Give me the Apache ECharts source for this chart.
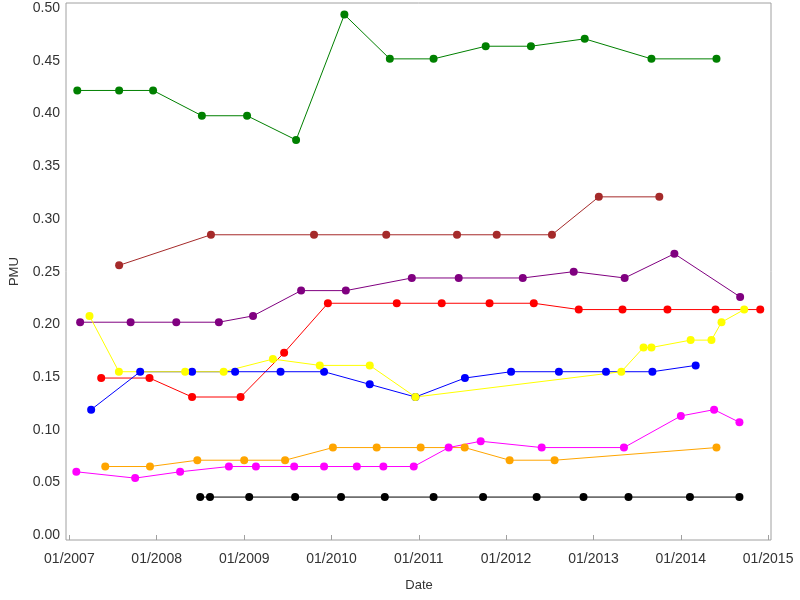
<!DOCTYPE html>
<html>
<head>
<meta charset="utf-8">
<script src="https://cdn.jsdelivr.net/npm/echarts@6/dist/echarts.min.js"></script>
<style>html,body{margin:0;padding:0;background:#fff;}#c{width:800px;height:600px;}</style>
</head>
<body>
<div id="c"></div>
<script>
// ---- data ----
const tickYears = [2007, 2008, 2009, 2010, 2011, 2012, 2013, 2014, 2015];
const yTicks = [0, 0.05, 0.1, 0.15, 0.2, 0.25, 0.3, 0.35, 0.4, 0.45, 0.5];

const greenDates = ['2007-02-03','2007-07-28','2007-12-17','2008-07-08','2009-01-13','2009-08-06','2010-02-24','2010-09-02','2011-03-04','2011-10-08','2012-04-14','2012-11-25','2013-08-31','2014-05-30'];
const greenValues = [0.422,0.422,0.422,0.398,0.398,0.375,0.494,0.452,0.452,0.464,0.464,0.471,0.452,0.452];

const brownDates = ['2007-07-28','2008-08-15','2009-10-20','2010-08-18','2011-06-10','2011-11-23','2012-07-11','2013-01-23','2013-10-03'];
const brownValues = [0.256,0.285,0.285,0.285,0.285,0.285,0.285,0.321,0.321];

const purpleDates = ['2007-02-15','2007-09-14','2008-03-23','2008-09-17','2009-02-07','2009-08-27','2010-03-02','2010-12-03','2011-06-17','2012-03-11','2012-10-10','2013-05-11','2013-12-05','2014-09-06'];
const purpleValues = [0.202,0.202,0.202,0.202,0.208,0.232,0.232,0.244,0.244,0.244,0.250,0.244,0.267,0.226];

const redDates = ['2007-05-14','2007-12-02','2008-05-28','2008-12-17','2009-06-17','2009-12-17','2010-10-01','2011-04-07','2011-10-24','2012-04-26','2012-10-31','2013-05-02','2013-11-06','2014-05-26','2014-11-29'];
const redValues = [0.149,0.149,0.131,0.131,0.173,0.220,0.220,0.220,0.220,0.220,0.214,0.214,0.214,0.214,0.214];

const blueDates = ['2007-04-02','2007-10-24','2008-05-28','2008-11-24','2009-06-02','2009-12-01','2010-06-10','2010-12-18','2011-07-13','2012-01-22','2012-08-09','2013-02-22','2013-09-04','2014-03-04'];
const blueValues = [0.119,0.155,0.155,0.155,0.155,0.155,0.143,0.131,0.149,0.155,0.155,0.155,0.155,0.161];

const yellowDates = ['2007-03-26','2007-07-27','2008-04-29','2008-10-07','2009-05-01','2009-11-13','2010-06-10','2010-12-18','2013-04-27','2013-07-29','2013-08-31','2014-02-11','2014-05-09','2014-06-20','2014-09-23'];
const yellowValues = [0.208,0.155,0.155,0.155,0.167,0.161,0.161,0.131,0.155,0.178,0.178,0.185,0.185,0.202,0.214];

const orangeDates = ['2007-05-31','2007-12-04','2008-06-19','2009-01-01','2009-06-21','2010-01-07','2010-07-09','2011-01-09','2011-07-12','2012-01-16','2012-07-22','2014-05-30'];
const orangeValues = [0.065,0.065,0.071,0.071,0.071,0.083,0.083,0.083,0.083,0.071,0.071,0.083];

const magentaDates = ['2007-01-30','2007-10-03','2008-04-08','2008-10-29','2009-02-19','2009-07-29','2009-12-01','2010-04-17','2010-08-06','2010-12-11','2011-05-06','2011-09-17','2012-05-29','2013-05-08','2014-01-01','2014-05-20','2014-09-03'];
const magentaValues = [0.060,0.054,0.060,0.065,0.065,0.065,0.065,0.065,0.065,0.065,0.083,0.089,0.083,0.083,0.113,0.119,0.107];

const blackDates = ['2008-07-01','2008-08-11','2009-01-22','2009-08-02','2010-02-10','2010-08-12','2011-03-04','2011-09-27','2012-05-08','2012-11-20','2013-05-27','2014-02-08','2014-09-03'];
const blackValues = [0.036,0.036,0.036,0.036,0.036,0.036,0.036,0.036,0.036,0.036,0.036,0.036,0.036];

// ---- build ----
function ts(s) { const p = s.split('-').map(Number); return Date.UTC(p[0], p[1] - 1, p[2]); }
function pairs(d, v) { return d.map((x, i) => [ts(x), v[i]]); }
const tickValues = tickYears.map(y => Date.UTC(y, 0, 1));

const seriesDefs = [
  ['green', greenDates, greenValues, '#008000'],
  ['brown', brownDates, brownValues, '#a52a2a'],
  ['purple', purpleDates, purpleValues, '#800080'],
  ['red', redDates, redValues, '#ff0000'],
  ['blue', blueDates, blueValues, '#0000ff'],
  ['yellow', yellowDates, yellowValues, '#ffff00'],
  ['orange', orangeDates, orangeValues, '#ffa500'],
  ['magenta', magentaDates, magentaValues, '#ff00ff'],
  ['black', blackDates, blackValues, '#000000']
];

const font = { fontFamily: 'Liberation Sans, Arial, sans-serif', fontSize: 14, color: '#333' };

const chart = echarts.init(document.getElementById('c'), null, { renderer: 'canvas' });
chart.setOption({
  animation: false,
  backgroundColor: '#fff',
  grid: [
    { left: 66, width: 705, top: 8.3, height: 526.7 },
    { left: 66, width: 705, top: 3, height: 537, show: true, borderColor: '#a0a0a0', borderWidth: 1, backgroundColor: 'transparent' }
  ],
  xAxis: [
    {
      type: 'value', gridIndex: 0,
      min: ts('2006-12-22'), max: ts('2015-01-13'),
      offset: 5,
      axisLine: { show: false },
      axisTick: { show: true, length: 5, customValues: tickValues, lineStyle: { color: '#a0a0a0' } },
      axisLabel: Object.assign({ customValues: tickValues, margin: 12, hideOverlap: false,
        formatter: function (v) { const d = new Date(v); const m = d.getUTCMonth() + 1; return (m < 10 ? '0' + m : m) + '/' + d.getUTCFullYear(); } }, font),
      splitLine: { show: false },
      name: 'Date', nameLocation: 'middle', nameGap: 39,
      nameTextStyle: Object.assign({}, font, { fontSize: 13 })
    },
    { type: 'value', gridIndex: 1, show: false, min: 0, max: 1 }
  ],
  yAxis: [
    {
      type: 'value', gridIndex: 0, min: 0, max: 0.5, interval: 0.05,
      axisLine: { show: false }, axisTick: { show: false }, splitLine: { show: false },
      axisLabel: Object.assign({ margin: 7, formatter: v => v.toFixed(2) }, font),
      name: 'PMU', nameLocation: 'middle', nameGap: 46, nameRotate: 90,
      nameTextStyle: Object.assign({}, font, { fontSize: 13 })
    },
    { type: 'value', gridIndex: 1, show: false, min: 0, max: 1 }
  ],
  series: seriesDefs.map(s => ({
    name: s[0], type: 'line', xAxisIndex: 0, yAxisIndex: 0,
    data: pairs(s[1], s[2]),
    symbol: 'circle', symbolSize: 8, showSymbol: true,
    itemStyle: { color: s[3] },
    lineStyle: { color: s[3], width: 1 },
    emphasis: { disabled: true }
  }))
});
</script>
</body>
</html>
